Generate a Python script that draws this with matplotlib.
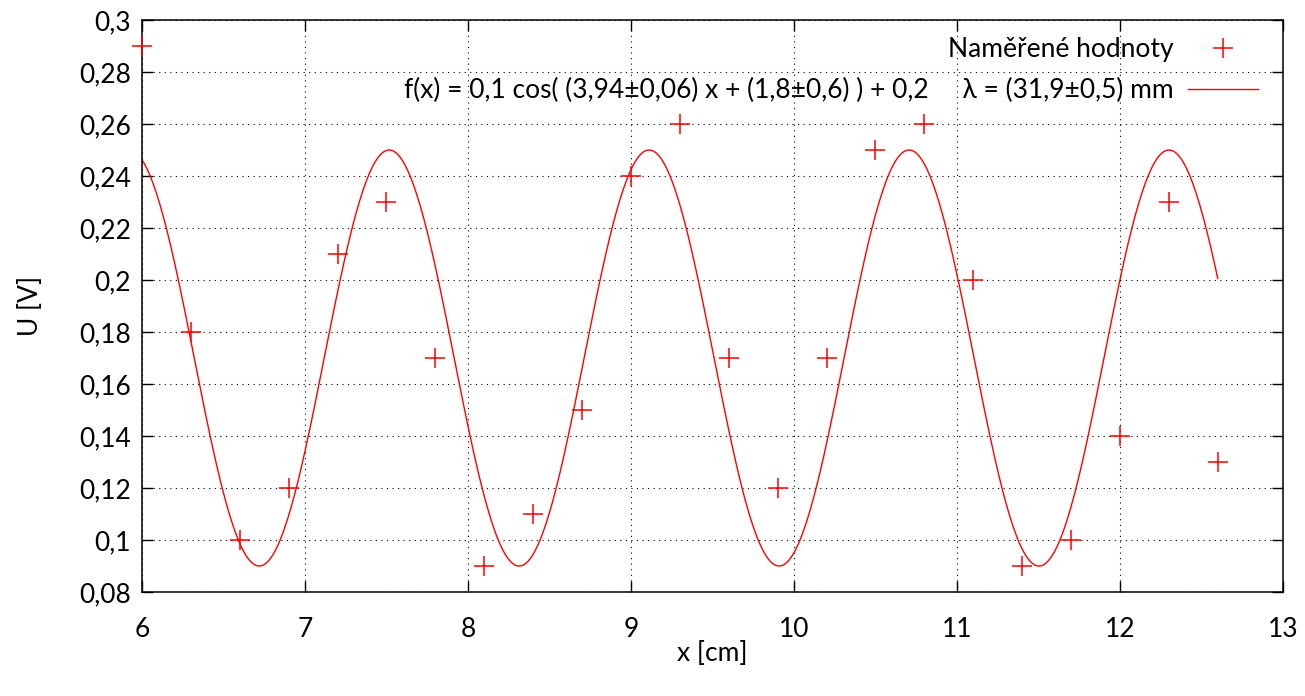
import matplotlib
matplotlib.use("Agg")
import matplotlib.pyplot as plt
import numpy as np
from matplotlib.ticker import FuncFormatter, MultipleLocator

plt.rcParams['font.family'] = ['Lato', 'DejaVu Sans']

# measured points
x_cm = [6.0, 6.3, 6.6, 6.9, 7.2, 7.5, 7.8, 8.1, 8.4, 8.7, 9.0, 9.3,
        9.6, 9.9, 10.2, 10.5, 10.8, 11.1, 11.4, 11.7, 12.0, 12.3, 12.6]
u_volt = [0.29, 0.18, 0.10, 0.12, 0.21, 0.23, 0.17, 0.09, 0.11, 0.15, 0.24, 0.26,
          0.17, 0.12, 0.17, 0.25, 0.26, 0.20, 0.09, 0.10, 0.14, 0.23, 0.13]

# fitted cosine
fit_amp = 0.08
fit_k = 3.94
fit_phase = 1.8
fit_offset = 0.17

label_points = "Naměřené hodnoty"
label_fit = "f(x) = 0,1 cos( (3,94±0,06) x + (1,8±0,6) ) + 0,2     λ = (31,9±0,5) mm"

xf = np.linspace(min(x_cm), max(x_cm), 600)
yf = fit_amp * np.cos(fit_k * xf + fit_phase) + fit_offset

fig = plt.figure(figsize=(13.05, 6.96), dpi=100)
ax = fig.add_axes([0.1088, 0.1494, 0.8743, 0.8219])

ax.plot(x_cm, u_volt, '+', color='red', markersize=14, markeredgewidth=1.1,
        label=label_points, clip_on=False, zorder=5)
ax.plot(xf, yf, '-', color='red', linewidth=1.0, label=label_fit)

ax.set_xlim(6, 13)
ax.set_ylim(0.08, 0.3)
ax.xaxis.set_major_locator(MultipleLocator(1))
ax.yaxis.set_major_locator(MultipleLocator(0.02))

comma = FuncFormatter(lambda v, p: ('%g' % round(v, 4)).replace('.', ','))
ax.xaxis.set_major_formatter(comma)
ax.yaxis.set_major_formatter(comma)

ax.tick_params(direction='in', length=8, width=1, top=True, right=True,
               labelsize=19)
ax.tick_params(axis='x', pad=18)
ax.tick_params(axis='y', pad=8)
ax.grid(True, color='black', linestyle=(0, (1, 4)), linewidth=0.8)
for s in ax.spines.values():
    s.set_linewidth(1.1)

ax.set_xlabel("x [cm]", fontsize=19, labelpad=-1)
ax.set_ylabel("U [V]", fontsize=19, labelpad=26)

leg = ax.legend(loc='upper right', bbox_to_anchor=(1.0, 1.014), frameon=False,
                markerfirst=False, fontsize=19, handlelength=2.65,
                handletextpad=0.55, borderaxespad=0.55, labelspacing=0.6)

fig.savefig("out.png", dpi=100)
